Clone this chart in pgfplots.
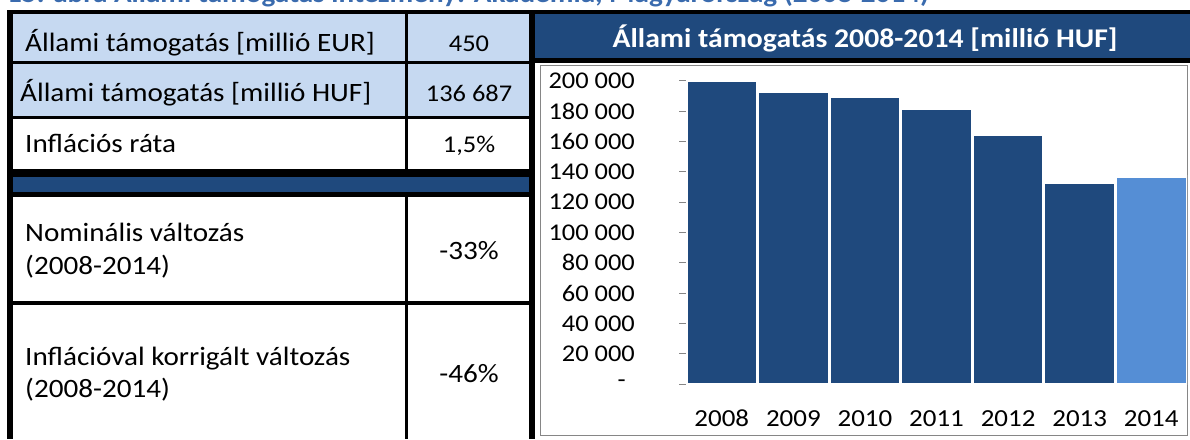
\documentclass[border=0pt]{standalone}
\usepackage{pgfplots}
\pgfplotsset{compat=1.18}
\usepackage{fontspec}
\setmainfont{Carlito}[FakeStretch=1.1]
\definecolor{dkblue}{HTML}{1F497D}
\definecolor{ltblue}{HTML}{C6D9F1}
\definecolor{midblue}{HTML}{558ED5}
\definecolor{ttlblue}{HTML}{3A6BAE}
\definecolor{axgray}{HTML}{868686}
\newcommand{\fs}[1]{\fontsize{#1}{#1}\selectfont}
\begin{document}
\begin{tikzpicture}[x=1pt,y=1pt]
\useasboundingbox (0,0) rectangle (1190,439);
\clip (0,0) rectangle (1190,439);
% cut-off caption at top
\node[anchor=base west, inner sep=0pt, text=ttlblue, font=\bfseries\fs{26.5}] at (7,436.5) {15. ábra Állami támogatás intézmény: Akadémia, Magyarország (2008-2014)};
% black frame
\fill[black] (7,0) rectangle (1190,429);
% table cells
\fill[ltblue] (13,378) rectangle (405,425);
\fill[ltblue] (408,378) rectangle (529,425);
\fill[ltblue] (13,323) rectangle (405,375);
\fill[ltblue] (408,323) rectangle (529,375);
\fill[white] (13,270) rectangle (405,320);
\fill[white] (408,270) rectangle (529,320);
\fill[dkblue] (13,247) rectangle (529,262);
\fill[white] (13,138) rectangle (405,242);
\fill[white] (408,138) rectangle (529,242);
\fill[white] (13,0) rectangle (405,134);
\fill[white] (408,0) rectangle (529,134);
% table text
\begin{scope}[every node/.style={inner sep=0pt}]
\node[anchor=base west, font=\fs{26.5}] at (25,387) {Állami támogatás [millió EUR]};
\node[anchor=base west, font=\fs{26.5}] at (20,337) {Állami támogatás [millió HUF]};
\node[anchor=base west, font=\fs{26.5}] at (25,286) {Inflációs ráta};
\node[anchor=base west, font=\fs{26.5}] at (25,197) {Nominális változás};
\node[anchor=base west, font=\fs{26.5}] at (25,164) {(2008-2014)};
\node[anchor=base west, font=\fs{26.5}] at (25,74) {Inflációval korrigált változás};
\node[anchor=base west, font=\fs{26.5}] at (25,42) {(2008-2014)};
\node[anchor=base, font=\fs{24}] at (469,387) {450};
\node[anchor=base, font=\fs{24}] at (469,337) {136 687};
\node[anchor=base, font=\fs{24}] at (469,286) {1,5\%};
\node[anchor=base, font=\fs{26.5}] at (469,179) {-33\%};
\node[anchor=base, font=\fs{26.5}] at (469,57) {-46\%};
\end{scope}
% chart title bar
\fill[dkblue] (535,381) rectangle (1190,425);
\node[anchor=base, inner sep=0pt, text=white, font=\bfseries\fs{27}] at (865,391) {Állami támogatás 2008-2014 [millió HUF]};
% chart area
\fill[white] (535,0) rectangle (1190,376);
\draw[axgray, line width=1pt] (540.5,3.5) rectangle (1187.5,373);
\begin{axis}[
  at={(686pt,55pt)}, anchor=south west,
  scale only axis, width=501pt, height=303pt,
  xmin=-0.5, xmax=6.5, ymin=0, ymax=200000,
  axis lines*=left,
  axis line style={axgray, line width=1pt},
  ybar, bar width=1, bar shift=0pt,
  xtick={0,...,6}, xticklabels={2008,2009,2010,2011,2012,2013,2014},
  xtick style={draw=none},
  ytick={0,20000,...,200000},
  yticklabels={{-\hspace*{9pt}},20 000,40 000,60 000,80 000,100 000,120 000,140 000,160 000,180 000,200 000},
  ytick style={axgray, line width=1pt},
  tick align=outside, major tick length=7pt,
  yticklabel style={font=\fs{24}, anchor=east, inner sep=0pt, xshift=-44pt},
  xticklabel style={font=\fs{24.5}, anchor=north, inner sep=0pt, yshift=-19pt},
  scaled y ticks=false,
]
\addplot[fill=dkblue, draw=white, line width=3pt] coordinates {(0,200000) (1,192800) (2,189800) (3,181600) (4,164500) (5,132800)};
\addplot[fill=midblue, draw=white, line width=3pt] coordinates {(6,136687)};
\end{axis}
\end{tikzpicture}
\end{document}
